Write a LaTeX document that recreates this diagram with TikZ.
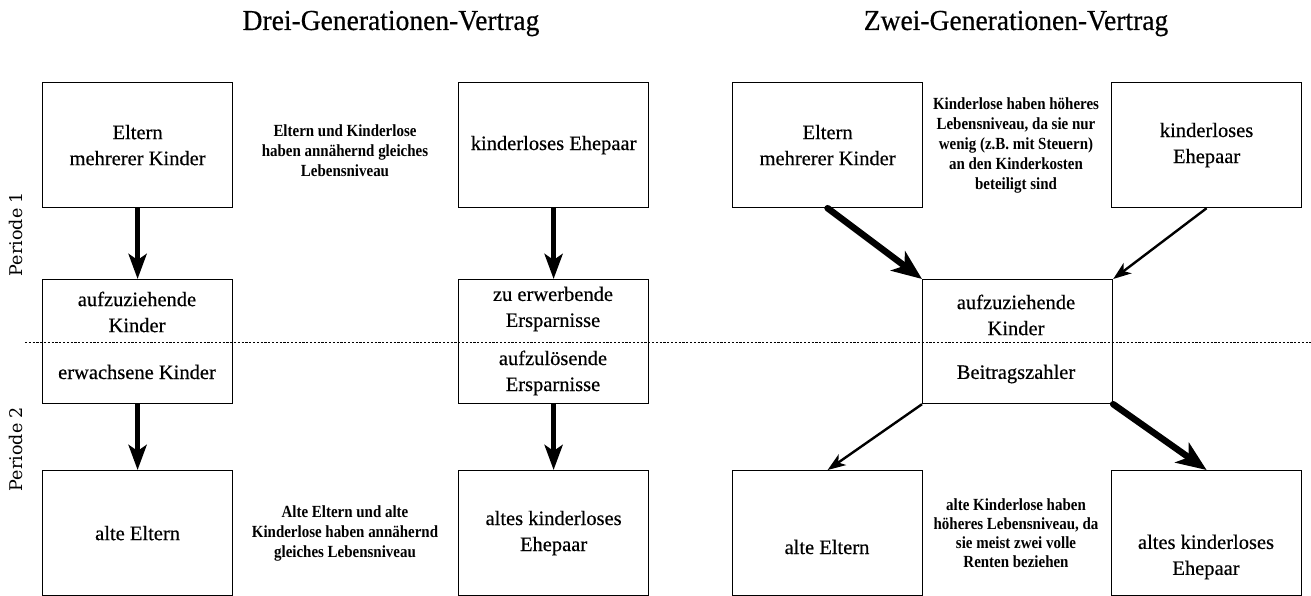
\documentclass[tikz,border=0pt]{standalone}
\usepackage{fontspec}
\usetikzlibrary{arrows.meta}
\newfontfamily\boxfont{Liberation Serif}[FakeBold=0.4]
\newfontfamily\notefont{Liberation Serif}[FakeStretch=0.88]
\newfontfamily\titlefont{Liberation Serif}[FakeStretch=0.95,FakeBold=0.4]
\newfontfamily\perfont{DejaVu Serif}
\begin{document}
\begin{tikzpicture}[x=1pt,y=-1pt,
  box/.style={draw, line width=1.2pt, minimum width=190pt, minimum height=125pt,
    anchor=north west, inner sep=0pt, align=center,
    font=\boxfont\fontsize{20.5}{26}\selectfont},
  txt/.style={font=\boxfont\fontsize{20.5}{26}\selectfont, align=center, inner sep=0pt},
  note/.style={font=\notefont\bfseries\fontsize{17}{20}\selectfont, align=center, inner sep=0pt},
  ttl/.style={font=\titlefont\fontsize{29}{34}\selectfont, anchor=base, inner sep=0pt},
  per/.style={font=\perfont\fontsize{17.5}{20}\selectfont, rotate=90, inner sep=0pt},
  varr/.style={line width=5pt, -{Stealth[length=25pt,width=18pt,inset=6pt]}},
  thickarr/.style={line width=6.5pt, line cap=round, -{Stealth[length=30pt,width=24pt,inset=8pt]}},
  thinarr/.style={line width=2.4pt, -{Stealth[length=18pt,width=13pt,inset=5pt]}},
  dotline/.style={line width=0.9pt, dash pattern=on 2.2pt off 1.6pt}
]
\useasboundingbox (0,0) rectangle (1311,596);
\fill[white] (0,0) rectangle (1311,596);

% titles
\node[ttl] (t1) at (391,30) {Drei-Generationen-Vertrag};
\node[ttl] (t2) at (1016,30) {Zwei-Generationen-Vertrag};

% period labels
\node[per] (p1) at (16,234) {Periode 1};
\node[per] (p2) at (16,449) {Periode 2};

% dotted separator
\coordinate (dl) at (25,342);
\coordinate (dr) at (1311,342);
\draw[dotline] (dl) -- (dr);

% ---- Drei-Generationen-Vertrag ----
\node[box] (A1) at (42,82) {Eltern\\mehrerer Kinder};
\node[box, minimum height=124pt] (A2) at (42,279) {};
\node[txt] (A2u) at (137,312) {aufzuziehende\\Kinder};
\node[txt] (A2l) at (137,372) {erwachsene Kinder};
\node[box] (A3) at (42,470) {alte Eltern};

\node[box] (B1) at (458,82) {kinderloses Ehepaar};
\node[box, minimum height=124pt] (B2) at (458,279) {};
\node[txt] (B2u) at (553,309) {zu erwerbende\\Ersparnisse};
\node[txt] (B2l) at (553,373) {aufzulösende\\Ersparnisse};
\node[box] (B3) at (458,470) {altes kinderloses\\Ehepaar};

\node[note] (n1) at (345,151) {Eltern und Kinderlose\\haben annähernd gleiches\\Lebensniveau};
\node[note] (n2) at (345,533) {Alte Eltern und alte\\Kinderlose haben annähernd\\gleiches Lebensniveau};

\draw[varr] (A1.south) -- (A2.north);
\draw[varr] (A2.south) -- (A3.north);
\draw[varr] (B1.south) -- (B2.north);
\draw[varr] (B2.south) -- (B3.north);

% ---- Zwei-Generationen-Vertrag ----
\node[box] (C1) at (732,82) {Eltern\\mehrerer Kinder};
\node[box] (C2) at (1111,82) {kinderloses\\Ehepaar};
\node[box, minimum height=124pt] (M) at (922,279) {};
\node[txt] (Mu) at (1016,315) {aufzuziehende\\Kinder};
\node[txt] (Ml) at (1016,374) {Beitragszahler};
\node[box] (C3) at (732,470) {};
\node[txt] (C3t) at (827,547) {alte Eltern};
\node[box] (C4) at (1111,470) {};
\node[txt] (C4t) at (1206,557) {altes kinderloses\\Ehepaar};

\node[note] (n3) at (1016,145) {Kinderlose haben höheres\\Lebensniveau, da sie nur\\wenig (z.B. mit Steuern)\\an den Kinderkosten\\beteiligt sind};
\node[note, font=\notefont\bfseries\fontsize{17}{19}\selectfont] (n4) at (1016,533) {alte Kinderlose haben\\höheres Lebensniveau, da\\sie meist zwei volle\\Renten beziehen};

\draw[thickarr] (C1.south) -- (M.north west);
\draw[thinarr] (C2.south) -- (M.north east);
\draw[thinarr] (M.south west) -- (C3.north);
\draw[thickarr] (M.south east) -- (C4.north);
\end{tikzpicture}
\end{document}
